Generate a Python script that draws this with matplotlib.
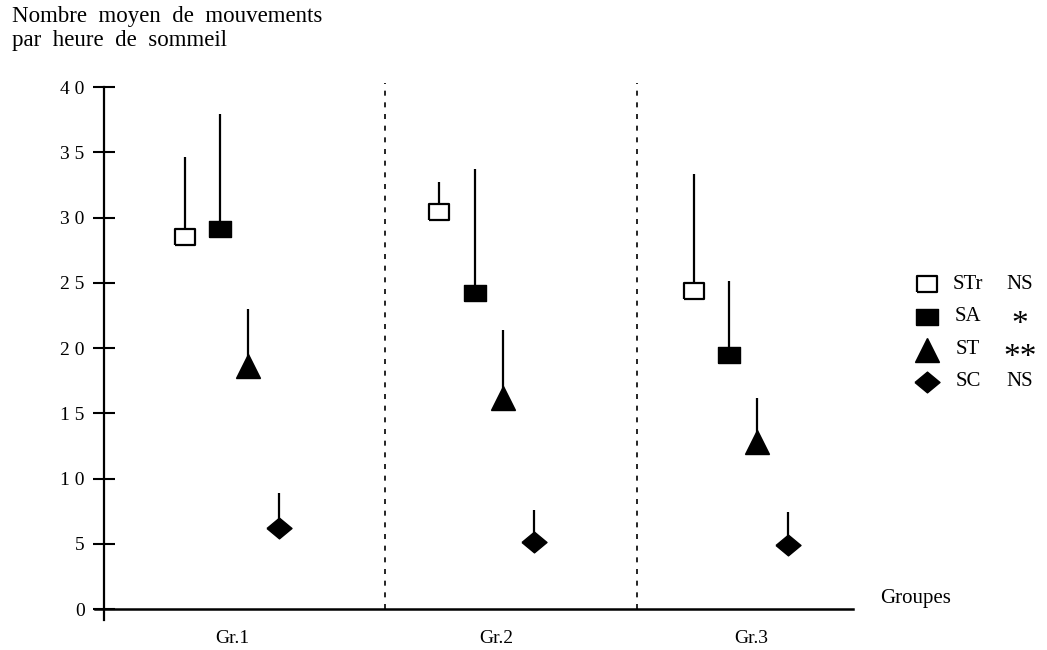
import matplotlib.pyplot as plt
from matplotlib.lines import Line2D

plt.rcParams['font.family'] = ['Liberation Serif', 'DejaVu Serif']

groups = ["Gr.1", "Gr.2", "Gr.3"]
series = ["STr", "SA", "ST", "SC"]
signif = ["NS", "*", "**", "NS"]

# mean and upper SD per group
str_mean = [28.5, 30.4, 24.4]
str_sd = [6.1, 2.3, 8.9]
sa_mean = [29.1, 24.2, 19.5]
sa_sd = [8.8, 9.5, 5.6]
st_mean = [18.6, 16.2, 12.8]
st_sd = [4.4, 5.2, 3.4]
sc_mean = [6.2, 5.1, 4.9]
sc_sd = [2.7, 2.5, 2.5]

yticks = [0, 5, 10, 15, 20, 25, 30, 35, 40]

rect = [(-1, -0.75), (1, -0.75), (1, 0.75), (-1, 0.75), (-1, -0.75)]
diamond = [(-1, 0), (0, -0.83), (1, 0), (0, 0.83), (-1, 0)]
styles = [
    dict(marker=rect, ms=15, mfc='white', mec='black', mew=1.6),
    dict(marker=rect, ms=15.5, mfc='black', mec='black', mew=1),
    dict(marker='^', ms=17, mfc='black', mec='black', mew=1),
    dict(marker=diamond, ms=18, mfc='black', mec='black', mew=1),
]
offsets = [-0.185, -0.047, 0.063, 0.185]

fig = plt.figure(figsize=(10.47, 6.5), dpi=100)
ax = fig.add_axes([104 / 1047, 41 / 650, 749 / 1047, 522 / 650])
x0, x1 = 0.497, 3.44
ax.set_xlim(x0, x1)
ax.set_ylim(0, 40)
for s in ax.spines.values():
    s.set_visible(False)

# hand drawn axes
ax.plot([x0, x0], [-0.85, 40], color='black', lw=1.6, clip_on=False)
ax.plot([x0 - 0.035, x1], [0, 0], color='black', lw=1.8, clip_on=False)
for xd in [1.6, 2.59]:
    ax.plot([xd, xd], [0, 40.3], color='black', lw=1.2,
            linestyle=(0, (3, 4)), clip_on=False)

pos = [1, 2, 3]
means = [str_mean, sa_mean, st_mean, sc_mean]
sds = [str_sd, sa_sd, st_sd, sc_sd]
for k in range(4):
    xs = [p + offsets[k] for p in pos]
    tops = [m + s for m, s in zip(means[k], sds[k])]
    ax.vlines(xs, means[k], tops, color='black', lw=1.6, zorder=2)
    ax.plot(xs, means[k], linestyle='none', zorder=3, **styles[k])

ax.set_yticks(yticks)
ax.set_yticklabels([" ".join(str(t)) for t in yticks])
ax.tick_params(axis='y', direction='inout', length=16, width=1.5,
               pad=6, labelsize=14)
ax.set_xticks([1, 2.04, 3.04])
ax.set_xticklabels(groups)
ax.tick_params(axis='x', length=0, pad=15, labelsize=14)

fig.text(12 / 1047, 1 - 6 / 650,
         "Nombre  moyen  de  mouvements\npar  heure  de  sommeil",
         va='top', ha='left', fontsize=16.5, linespacing=1.2)
fig.text(880 / 1047, 1 - 598 / 650, "Groupes", va='center', ha='left',
         fontsize=15)

# legend
rows = [284, 317, 350, 382]
for k in range(4):
    yf = 1 - rows[k] / 650
    fig.add_artist(Line2D([927 / 1047], [yf], transform=fig.transFigure,
                          linestyle='none', **styles[k]))
    fig.text(968 / 1047, yf, series[k], ha='center', va='center', fontsize=15)
    if signif[k] == "NS":
        fig.text(1020 / 1047, yf, signif[k], ha='center', va='center',
                 fontsize=15)
    else:
        fig.text(1020 / 1047, yf - 0.012, signif[k], ha='center',
                 va='center', fontsize=24)

fig.savefig("out.png", dpi=100)
